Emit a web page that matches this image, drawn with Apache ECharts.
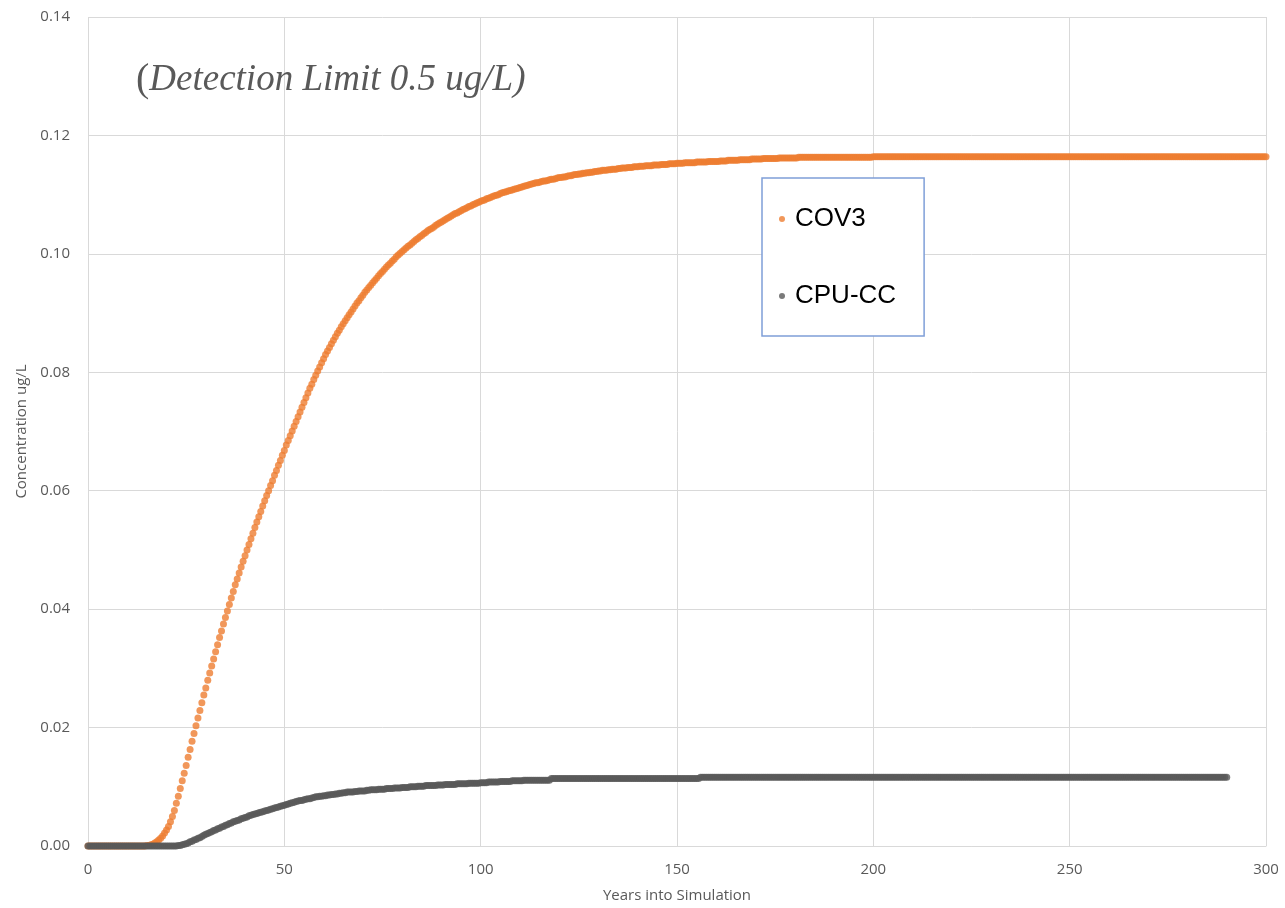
<!DOCTYPE html>
<html>
<head>
<meta charset="utf-8">
<script src="https://cdn.jsdelivr.net/npm/echarts@6/dist/echarts.min.js"></script>
<style>
  html, body { margin: 0; padding: 0; background: #ffffff; }
  #chart { width: 1285px; height: 908px; }
</style>
</head>
<body>
<div id="chart"></div>
<script>
// Simulation output, one value every half year starting at year 0 (ug/L).
// Each row holds five years (ten samples).
const firstYear = 0;
const yearStep = 0.5;

const cov3 = [
  0, 0, 0, 0, 0, 0, 0, 0, 0, 0,
  0, 0, 0, 0, 0, 0, 0, 0, 0, 0,
  0, 0, 0, 0, 0, 0, 0, 0, 0, 0,
  0.0001, 0.0001, 0.0002, 0.0003, 0.0005, 0.0007, 0.0010, 0.0013, 0.0017, 0.0022,
  0.0027, 0.0033, 0.0041, 0.0050, 0.0060, 0.0072, 0.0084, 0.0097, 0.0110, 0.0123,
  0.0136, 0.0150, 0.0163, 0.0177, 0.0190, 0.0203, 0.0216, 0.0229, 0.0242, 0.0255,
  0.0267, 0.0280, 0.0292, 0.0304, 0.0316, 0.0328, 0.0340, 0.0352, 0.0363, 0.0375,
  0.0386, 0.0397, 0.0408, 0.0419, 0.0430, 0.0441, 0.0451, 0.0461, 0.0471, 0.0481,
  0.0490, 0.0500, 0.0509, 0.0519, 0.0528, 0.0538, 0.0547, 0.0556, 0.0565, 0.0574,
  0.0583, 0.0592, 0.0600, 0.0609, 0.0617, 0.0626, 0.0634, 0.0643, 0.0651, 0.0660,
  0.0668, 0.0677, 0.0685, 0.0693, 0.0701, 0.0709, 0.0717, 0.0725, 0.0733, 0.0741,
  0.0749, 0.0757, 0.0765, 0.0773, 0.0780, 0.0788, 0.0795, 0.0802, 0.0809, 0.0816,
  0.0823, 0.0830, 0.0836, 0.0842, 0.0848, 0.0854, 0.0860, 0.0866, 0.0871, 0.0877,
  0.0882, 0.0887, 0.0892, 0.0897, 0.0902, 0.0907, 0.0912, 0.0917, 0.0921, 0.0926,
  0.0930, 0.0935, 0.0939, 0.0943, 0.0947, 0.0951, 0.0955, 0.0959, 0.0963, 0.0967,
  0.0970, 0.0974, 0.0978, 0.0981, 0.0984, 0.0988, 0.0991, 0.0995, 0.0998, 0.1001,
  0.1004, 0.1007, 0.1010, 0.1013, 0.1015, 0.1018, 0.1021, 0.1024, 0.1026, 0.1029,
  0.1031, 0.1034, 0.1036, 0.1039, 0.1041, 0.1043, 0.1045, 0.1048, 0.1050, 0.1052,
  0.1054, 0.1056, 0.1058, 0.1060, 0.1062, 0.1064, 0.1066, 0.1068, 0.1069, 0.1071,
  0.1073, 0.1075, 0.1076, 0.1078, 0.1080, 0.1081, 0.1083, 0.1084, 0.1086, 0.1087,
  0.1089, 0.1090, 0.1091, 0.1093, 0.1094, 0.1095, 0.1097, 0.1098, 0.1099, 0.1100,
  0.1102, 0.1103, 0.1104, 0.1105, 0.1106, 0.1107, 0.1108, 0.1109, 0.1110, 0.1111,
  0.1112, 0.1113, 0.1114, 0.1115, 0.1116, 0.1117, 0.1118, 0.1119, 0.1120, 0.1120,
  0.1121, 0.1122, 0.1123, 0.1123, 0.1124, 0.1125, 0.1126, 0.1126, 0.1127, 0.1128,
  0.1129, 0.1129, 0.1130, 0.1130, 0.1131, 0.1132, 0.1132, 0.1133, 0.1134, 0.1134,
  0.1135, 0.1135, 0.1136, 0.1136, 0.1137, 0.1137, 0.1138, 0.1138, 0.1139, 0.1139,
  0.1140, 0.1140, 0.1141, 0.1141, 0.1141, 0.1142, 0.1142, 0.1143, 0.1143, 0.1143,
  0.1144, 0.1144, 0.1145, 0.1145, 0.1145, 0.1146, 0.1146, 0.1146, 0.1147, 0.1147,
  0.1147, 0.1148, 0.1148, 0.1148, 0.1149, 0.1149, 0.1149, 0.1149, 0.1150, 0.1150,
  0.1150, 0.1150, 0.1151, 0.1151, 0.1151, 0.1151, 0.1152, 0.1152, 0.1152, 0.1152,
  0.1153, 0.1153, 0.1153, 0.1153, 0.1154, 0.1154, 0.1154, 0.1154, 0.1154, 0.1154,
  0.1155, 0.1155, 0.1155, 0.1155, 0.1155, 0.1155, 0.1156, 0.1156, 0.1156, 0.1156,
  0.1156, 0.1156, 0.1157, 0.1157, 0.1157, 0.1157, 0.1158, 0.1158, 0.1158, 0.1158,
  0.1158, 0.1158, 0.1159, 0.1159, 0.1159, 0.1159, 0.1159, 0.1159, 0.1160, 0.1160,
  0.1160, 0.1160, 0.1160, 0.1160, 0.1161, 0.1161, 0.1161, 0.1161, 0.1161, 0.1161,
  0.1161, 0.1161, 0.1162, 0.1162, 0.1162, 0.1162, 0.1162, 0.1162, 0.1162, 0.1162,
  0.1162, 0.1162, 0.1163, 0.1163, 0.1163, 0.1163, 0.1163, 0.1163, 0.1163, 0.1163,
  0.1163, 0.1163, 0.1163, 0.1163, 0.1163, 0.1163, 0.1163, 0.1163, 0.1163, 0.1163,
  0.1163, 0.1163, 0.1163, 0.1163, 0.1163, 0.1163, 0.1163, 0.1163, 0.1163, 0.1163,
  0.1163, 0.1163, 0.1163, 0.1163, 0.1163, 0.1163, 0.1163, 0.1163, 0.1163, 0.1163,
  0.1164, 0.1164, 0.1164, 0.1164, 0.1164, 0.1164, 0.1164, 0.1164, 0.1164, 0.1164,
  0.1164, 0.1164, 0.1164, 0.1164, 0.1164, 0.1164, 0.1164, 0.1164, 0.1164, 0.1164,
  0.1164, 0.1164, 0.1164, 0.1164, 0.1164, 0.1164, 0.1164, 0.1164, 0.1164, 0.1164,
  0.1164, 0.1164, 0.1164, 0.1164, 0.1164, 0.1164, 0.1164, 0.1164, 0.1164, 0.1164,
  0.1164, 0.1164, 0.1164, 0.1164, 0.1164, 0.1164, 0.1164, 0.1164, 0.1164, 0.1164,
  0.1164, 0.1164, 0.1164, 0.1164, 0.1164, 0.1164, 0.1164, 0.1164, 0.1164, 0.1164,
  0.1164, 0.1164, 0.1164, 0.1164, 0.1164, 0.1164, 0.1164, 0.1164, 0.1164, 0.1164,
  0.1164, 0.1164, 0.1164, 0.1164, 0.1164, 0.1164, 0.1164, 0.1164, 0.1164, 0.1164,
  0.1164, 0.1164, 0.1164, 0.1164, 0.1164, 0.1164, 0.1164, 0.1164, 0.1164, 0.1164,
  0.1164, 0.1164, 0.1164, 0.1164, 0.1164, 0.1164, 0.1164, 0.1164, 0.1164, 0.1164,
  0.1164, 0.1164, 0.1164, 0.1164, 0.1164, 0.1164, 0.1164, 0.1164, 0.1164, 0.1164,
  0.1164, 0.1164, 0.1164, 0.1164, 0.1164, 0.1164, 0.1164, 0.1164, 0.1164, 0.1164,
  0.1164, 0.1164, 0.1164, 0.1164, 0.1164, 0.1164, 0.1164, 0.1164, 0.1164, 0.1164,
  0.1164, 0.1164, 0.1164, 0.1164, 0.1164, 0.1164, 0.1164, 0.1164, 0.1164, 0.1164,
  0.1164, 0.1164, 0.1164, 0.1164, 0.1164, 0.1164, 0.1164, 0.1164, 0.1164, 0.1164,
  0.1164, 0.1164, 0.1164, 0.1164, 0.1164, 0.1164, 0.1164, 0.1164, 0.1164, 0.1164,
  0.1164, 0.1164, 0.1164, 0.1164, 0.1164, 0.1164, 0.1164, 0.1164, 0.1164, 0.1164,
  0.1164, 0.1164, 0.1164, 0.1164, 0.1164, 0.1164, 0.1164, 0.1164, 0.1164, 0.1164,
  0.1164, 0.1164, 0.1164, 0.1164, 0.1164, 0.1164, 0.1164, 0.1164, 0.1164, 0.1164,
  0.1164, 0.1164, 0.1164, 0.1164, 0.1164, 0.1164, 0.1164, 0.1164, 0.1164, 0.1164,
  0.1164
];

const cpuCC = [
  0, 0, 0, 0, 0, 0, 0, 0, 0, 0,
  0, 0, 0, 0, 0, 0, 0, 0, 0, 0,
  0, 0, 0, 0, 0, 0, 0, 0, 0, 0,
  0, 0, 0, 0, 0, 0, 0, 0, 0, 0,
  0, 0, 0, 0, 0, 0, 0.0001, 0.0001, 0.0002, 0.0003,
  0.0004, 0.0005, 0.0007, 0.0008, 0.0010, 0.0011, 0.0013, 0.0014, 0.0016, 0.0018,
  0.0020, 0.0021, 0.0023, 0.0024, 0.0026, 0.0027, 0.0029, 0.0030, 0.0032, 0.0033,
  0.0035, 0.0036, 0.0038, 0.0039, 0.0041, 0.0042, 0.0043, 0.0044, 0.0046, 0.0047,
  0.0048, 0.0049, 0.0051, 0.0052, 0.0053, 0.0054, 0.0055, 0.0056, 0.0057, 0.0058,
  0.0059, 0.0060, 0.0061, 0.0062, 0.0063, 0.0064, 0.0065, 0.0066, 0.0067, 0.0068,
  0.0069, 0.0070, 0.0071, 0.0072, 0.0073, 0.0074, 0.0075, 0.0076, 0.0077, 0.0077,
  0.0078, 0.0079, 0.0080, 0.0080, 0.0081, 0.0082, 0.0083, 0.0083, 0.0084, 0.0084,
  0.0085, 0.0085, 0.0086, 0.0086, 0.0087, 0.0087, 0.0088, 0.0088, 0.0089, 0.0089,
  0.0090, 0.0090, 0.0091, 0.0091, 0.0091, 0.0091, 0.0092, 0.0092, 0.0093, 0.0093,
  0.0093, 0.0093, 0.0094, 0.0094, 0.0095, 0.0095, 0.0095, 0.0095, 0.0096, 0.0096,
  0.0096, 0.0096, 0.0097, 0.0097, 0.0097, 0.0097, 0.0098, 0.0098, 0.0098, 0.0098,
  0.0099, 0.0099, 0.0099, 0.0099, 0.0100, 0.0100, 0.0100, 0.0100, 0.0101, 0.0101,
  0.0101, 0.0101, 0.0102, 0.0102, 0.0102, 0.0102, 0.0102, 0.0102, 0.0103, 0.0103,
  0.0103, 0.0103, 0.0104, 0.0104, 0.0104, 0.0104, 0.0104, 0.0104, 0.0105, 0.0105,
  0.0105, 0.0105, 0.0105, 0.0105, 0.0106, 0.0106, 0.0106, 0.0106, 0.0106, 0.0106,
  0.0107, 0.0107, 0.0107, 0.0107, 0.0108, 0.0108, 0.0108, 0.0108, 0.0108, 0.0108,
  0.0109, 0.0109, 0.0109, 0.0109, 0.0109, 0.0109, 0.0110, 0.0110, 0.0110, 0.0110,
  0.0110, 0.0110, 0.0111, 0.0111, 0.0111, 0.0111, 0.0111, 0.0111, 0.0111, 0.0111,
  0.0111, 0.0111, 0.0111, 0.0111, 0.0111, 0.0111, 0.0114, 0.0114, 0.0114, 0.0114,
  0.0114, 0.0114, 0.0114, 0.0114, 0.0114, 0.0114, 0.0114, 0.0114, 0.0114, 0.0114,
  0.0114, 0.0114, 0.0114, 0.0114, 0.0114, 0.0114, 0.0114, 0.0114, 0.0114, 0.0114,
  0.0114, 0.0114, 0.0114, 0.0114, 0.0114, 0.0114, 0.0114, 0.0114, 0.0114, 0.0114,
  0.0114, 0.0114, 0.0114, 0.0114, 0.0114, 0.0114, 0.0114, 0.0114, 0.0114, 0.0114,
  0.0114, 0.0114, 0.0114, 0.0114, 0.0114, 0.0114, 0.0114, 0.0114, 0.0114, 0.0114,
  0.0114, 0.0114, 0.0114, 0.0114, 0.0114, 0.0114, 0.0114, 0.0114, 0.0114, 0.0114,
  0.0114, 0.0114, 0.0114, 0.0114, 0.0114, 0.0114, 0.0114, 0.0114, 0.0114, 0.0114,
  0.0114, 0.0114, 0.0116, 0.0116, 0.0116, 0.0116, 0.0116, 0.0116, 0.0116, 0.0116,
  0.0116, 0.0116, 0.0116, 0.0116, 0.0116, 0.0116, 0.0116, 0.0116, 0.0116, 0.0116,
  0.0116, 0.0116, 0.0116, 0.0116, 0.0116, 0.0116, 0.0116, 0.0116, 0.0116, 0.0116,
  0.0116, 0.0116, 0.0116, 0.0116, 0.0116, 0.0116, 0.0116, 0.0116, 0.0116, 0.0116,
  0.0116, 0.0116, 0.0116, 0.0116, 0.0116, 0.0116, 0.0116, 0.0116, 0.0116, 0.0116,
  0.0116, 0.0116, 0.0116, 0.0116, 0.0116, 0.0116, 0.0116, 0.0116, 0.0116, 0.0116,
  0.0116, 0.0116, 0.0116, 0.0116, 0.0116, 0.0116, 0.0116, 0.0116, 0.0116, 0.0116,
  0.0116, 0.0116, 0.0116, 0.0116, 0.0116, 0.0116, 0.0116, 0.0116, 0.0116, 0.0116,
  0.0116, 0.0116, 0.0116, 0.0116, 0.0116, 0.0116, 0.0116, 0.0116, 0.0116, 0.0116,
  0.0116, 0.0116, 0.0116, 0.0116, 0.0116, 0.0116, 0.0116, 0.0116, 0.0116, 0.0116,
  0.0116, 0.0116, 0.0116, 0.0116, 0.0116, 0.0116, 0.0116, 0.0116, 0.0116, 0.0116,
  0.0116, 0.0116, 0.0116, 0.0116, 0.0116, 0.0116, 0.0116, 0.0116, 0.0116, 0.0116,
  0.0116, 0.0116, 0.0116, 0.0116, 0.0116, 0.0116, 0.0116, 0.0116, 0.0116, 0.0116,
  0.0116, 0.0116, 0.0116, 0.0116, 0.0116, 0.0116, 0.0116, 0.0116, 0.0116, 0.0116,
  0.0116, 0.0116, 0.0116, 0.0116, 0.0116, 0.0116, 0.0116, 0.0116, 0.0116, 0.0116,
  0.0116, 0.0116, 0.0116, 0.0116, 0.0116, 0.0116, 0.0116, 0.0116, 0.0116, 0.0116,
  0.0116, 0.0116, 0.0116, 0.0116, 0.0116, 0.0116, 0.0116, 0.0116, 0.0116, 0.0116,
  0.0116, 0.0116, 0.0116, 0.0116, 0.0116, 0.0116, 0.0116, 0.0116, 0.0116, 0.0116,
  0.0116, 0.0116, 0.0116, 0.0116, 0.0116, 0.0116, 0.0116, 0.0116, 0.0116, 0.0116,
  0.0116, 0.0116, 0.0116, 0.0116, 0.0116, 0.0116, 0.0116, 0.0116, 0.0116, 0.0116,
  0.0116, 0.0116, 0.0116, 0.0116, 0.0116, 0.0116, 0.0116, 0.0116, 0.0116, 0.0116,
  0.0116, 0.0116, 0.0116, 0.0116, 0.0116, 0.0116, 0.0116, 0.0116, 0.0116, 0.0116,
  0.0116, 0.0116, 0.0116, 0.0116, 0.0116, 0.0116, 0.0116, 0.0116, 0.0116, 0.0116,
  0.0116, 0.0116, 0.0116, 0.0116, 0.0116, 0.0116, 0.0116, 0.0116, 0.0116, 0.0116,
  0.0116, 0.0116, 0.0116, 0.0116, 0.0116, 0.0116, 0.0116, 0.0116, 0.0116, 0.0116,
  0.0116, 0.0116, 0.0116, 0.0116, 0.0116, 0.0116, 0.0116, 0.0116, 0.0116, 0.0116,
  0.0116, 0.0116, 0.0116, 0.0116, 0.0116, 0.0116, 0.0116, 0.0116, 0.0116, 0.0116,
  0.0116
];

const seriesNames = ['COV3', 'CPU-CC'];
const seriesColors = ['#ED7D31', '#595959'];
const xTicks = { min: 0, max: 300, interval: 50 };
const yTicks = { min: 0, max: 0.14, interval: 0.02 };
const noteText = 'Detection Limit 0.5 ug/L)';
const xName = 'Years into Simulation';
const yName = 'Concentration ug/L';

// pair each sample with its simulation year
const toPoints = arr => arr.map((v, i) => [firstYear + i * yearStep, v]);

const axisText = { fontFamily: 'Open Sans', fontSize: 15, color: '#595959' };
const gridLineColor = '#d9d9d9';

const chart = echarts.init(document.getElementById('chart'), null, { renderer: 'canvas' });

chart.setOption({
  animation: false,
  backgroundColor: '#ffffff',
  title: {
    text: '{p|(}{t|' + noteText + '}',
    left: 136,
    top: 60,
    padding: 0,
    textStyle: {
      fontWeight: 'normal',
      rich: {
        p: {
          fontFamily: 'Liberation Serif',
          fontStyle: 'normal',
          fontWeight: 'normal',
          fontSize: 40,
          color: '#595959'
        },
        t: {
          fontFamily: 'Liberation Serif',
          fontStyle: 'italic',
          fontWeight: 'normal',
          fontSize: 37,
          color: '#595959'
        }
      }
    }
  },
  grid: { left: 88, right: 19, top: 17, bottom: 62, containLabel: false },
  xAxis: {
    type: 'value',
    min: xTicks.min,
    max: xTicks.max,
    interval: xTicks.interval,
    name: xName,
    nameLocation: 'middle',
    nameGap: 42,
    nameTextStyle: axisText,
    axisLine: { show: true, lineStyle: { color: gridLineColor, width: 1 } },
    axisTick: { show: false },
    axisLabel: Object.assign({ margin: 16 }, axisText),
    splitLine: { show: true, lineStyle: { color: gridLineColor, width: 1 } }
  },
  yAxis: {
    type: 'value',
    min: yTicks.min,
    max: yTicks.max,
    interval: yTicks.interval,
    name: yName,
    nameLocation: 'middle',
    nameGap: 59,
    nameTextStyle: axisText,
    axisLine: { show: false },
    axisTick: { show: false },
    axisLabel: Object.assign({ margin: 18, formatter: v => v.toFixed(2) }, axisText),
    splitLine: { show: true, lineStyle: { color: gridLineColor, width: 1 } }
  },
  legend: {
    data: seriesNames,
    orient: 'vertical',
    left: 762,
    top: 178,
    padding: [28, 28, 27, 17],
    itemGap: 51,
    itemWidth: 6,
    itemHeight: 6,
    backgroundColor: '#ffffff',
    borderColor: '#7f9fd8',
    borderWidth: 1.5,
    borderRadius: 0,
    textStyle: {
      fontFamily: 'Liberation Sans',
      fontSize: 26,
      color: '#000000',
      padding: [0, 0, 0, 5]
    }
  },
  series: [
    {
      name: seriesNames[0],
      type: 'scatter',
      symbol: 'circle',
      symbolSize: 7,
      itemStyle: { color: seriesColors[0] },
      data: toPoints(cov3)
    },
    {
      name: seriesNames[1],
      type: 'scatter',
      symbol: 'circle',
      symbolSize: 7,
      itemStyle: { color: seriesColors[1] },
      data: toPoints(cpuCC)
    }
  ]
});
</script>
</body>
</html>
